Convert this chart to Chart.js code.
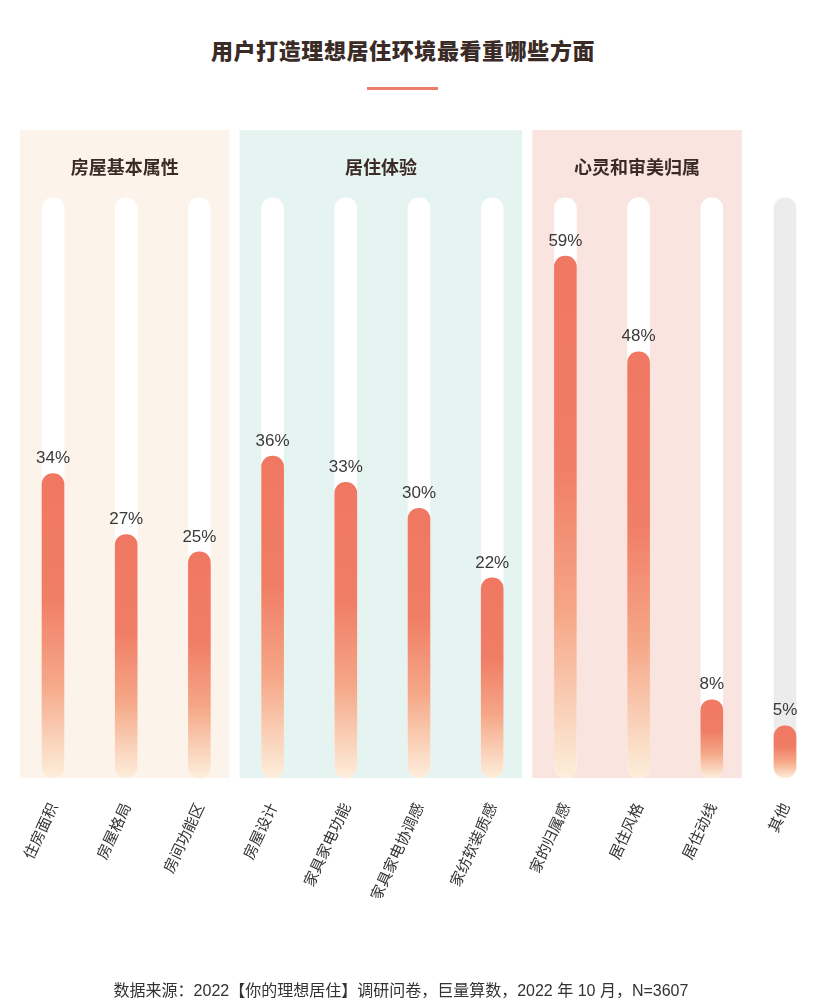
<!DOCTYPE html>
<html>
<head>
<meta charset="utf-8">
<script src="https://cdn.jsdelivr.net/npm/chart.js@4.4.1/dist/chart.umd.min.js"></script>
<style>
  html, body { margin: 0; padding: 0; background: #fff; }
  body { width: 820px; height: 1005px; overflow: hidden; position: relative; font-family: "Noto Sans CJK SC", "Noto Sans", sans-serif; }
  #title { position: absolute; left: 0; width: 806px; top: 33px; text-align: center; font-size: 22px; font-weight: 900; color: #3b2b26; letter-spacing: 0.6px; }
  #rule { position: absolute; left: 367px; top: 87px; width: 71px; height: 3px; background: #ea7e6b; }
  #wrap { position: absolute; left: 0; top: 0; width: 830px; height: 1005px; }
  #source { position: absolute; left: 0; width: 802px; top: 977px; text-align: center; font-size: 16px; color: #333; font-family: "Liberation Sans", "Noto Sans CJK SC", sans-serif; }
</style>
</head>
<body>
<div id="title">用户打造理想居住环境最看重哪些方面</div>
<div id="rule"></div>
<div id="wrap"><canvas id="myChart"></canvas></div>
<div id="source">数据来源：2022【你的理想居住】调研问卷，巨量算数，2022 年 10 月，N=3607</div>
<script>
  var categories = ["住房面积", "房屋格局", "房间功能区", "房屋设计", "家具家电功能", "家具家电协调感", "家纺软装质感", "家的归属感", "居住风格", "居住动线", "其他"];
  var shares = [34, 27, 25, 36, 33, 30, 22, 59, 48, 8, 5];
  var groupNames = ["房屋基本属性", "居住体验", "心灵和审美归属"];
  var groupFirst = [0, 3, 7];
  var groupLast = [2, 6, 9];
  var trackTop = 65.7;

  var panelColors = ["#fcf4ea", "#e5f3f1", "#f9e4e0"];
  var coral = "#f07862";

  var trackData = categories.map(function() { return trackTop; });
  var trackColors = categories.map(function(c, i) {
    return i === categories.length - 1 ? "#ececec" : "#ffffff";
  });

  var barFill = function(c) {
    var chart = c.chart;
    if (!chart.chartArea || c.type !== 'data') return coral;
    var y = chart.scales.y;
    var top = y.getPixelForValue(c.raw);
    var bottom = y.getPixelForValue(-1);
    var g = chart.ctx.createLinearGradient(0, top, 0, bottom);
    g.addColorStop(0, "#f07862");
    g.addColorStop(0.4, "#f07d66");
    g.addColorStop(0.68, "#f5a686");
    g.addColorStop(1, "#fdeedb");
    return g;
  };

  var panels = {
    id: 'panels',
    beforeDatasetsDraw: function(chart) {
      var ctx = chart.ctx, x = chart.scales.x, area = chart.chartArea;
      ctx.save();
      for (var i = 0; i < groupNames.length; i++) {
        var l = x.getPixelForValue(groupFirst[i]) - 33;
        var r = x.getPixelForValue(groupLast[i]) + 30;
        ctx.fillStyle = panelColors[i];
        ctx.fillRect(l, area.top, r - l, area.bottom - area.top);
        ctx.fillStyle = "#3b2b26";
        ctx.font = "bold 18px 'Noto Sans CJK SC'";
        ctx.textAlign = "center";
        ctx.textBaseline = "middle";
        ctx.fillText(groupNames[i], (l + r) / 2, area.top + 37);
      }
      ctx.restore();
    },
    afterDatasetsDraw: function(chart) {
      var ctx = chart.ctx, x = chart.scales.x, y = chart.scales.y;
      ctx.save();
      ctx.fillStyle = "#3a3a3a";
      ctx.font = "17px 'Liberation Sans'";
      ctx.textAlign = "center";
      ctx.textBaseline = "middle";
      shares.forEach(function(v, i) {
        ctx.fillText(v + "%", x.getPixelForValue(i), y.getPixelForValue(v) - 15);
      });
      ctx.restore();
    }
  };

  var context = document.getElementById("myChart").getContext('2d');
  var myChart = new Chart(context, {
    type: 'bar',
    data: {
      labels: categories,
      datasets: [
        {
          label: "占比",
          data: shares,
          base: -1,
          grouped: false,
          order: 1,
          backgroundColor: barFill,
          barThickness: 22,
          borderRadius: 11,
          borderSkipped: false
        },
        {
          label: "track",
          data: trackData,
          base: -1,
          grouped: false,
          order: 2,
          backgroundColor: trackColors,
          barThickness: 22,
          borderRadius: 11,
          borderSkipped: false
        }
      ]
    },
    options: {
      responsive: true,
      maintainAspectRatio: false,
      animation: false,
      layout: { padding: { top: 130, left: 16.4, right: 8.4, bottom: 107 } },
      plugins: { legend: { display: false }, tooltip: { enabled: false } },
      scales: {
        x: {
          grid: { display: false },
          border: { display: false },
          ticks: {
            autoSkip: false,
            minRotation: 65,
            maxRotation: 65,
            padding: 14,
            color: "#333",
            font: { size: 15, family: "'Noto Sans CJK SC'" }
          },
          afterFit: function(s) { s.height = 120; }
        },
        y: { display: false, min: -1, max: 73.5 }
      }
    },
    plugins: [panels]
  });
</script>
</body>
</html>
